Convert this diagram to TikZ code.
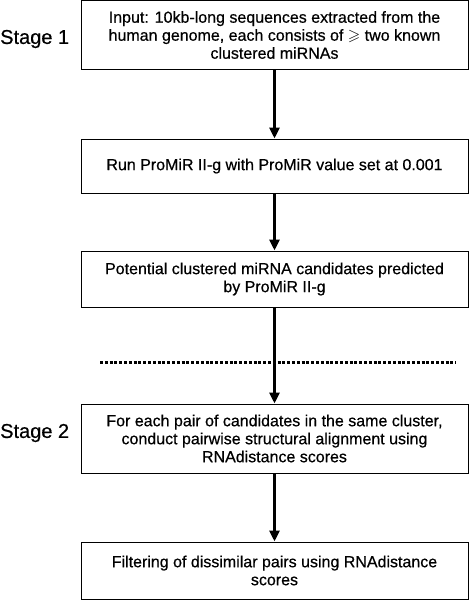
\documentclass[tikz,border=0pt]{standalone}
\usepackage{fontspec}
\setmainfont{Liberation Sans}[FakeBold=0.5,AutoFakeBold=0.5]
\newfontfamily\heavyfont{Liberation Sans}[FakeBold=0.5]
\usepackage{amsmath,amssymb}
\usetikzlibrary{arrows.meta}

\tikzset{
    stepbox/.style={draw,line width=1pt,minimum width=387pt,align=center,
        font=\heavyfont\fontsize{16}{18}\selectfont,inner sep=0pt},
    stagelabel/.style={font=\heavyfont\fontsize{20}{22}\selectfont,anchor=west,inner sep=0pt}
}

\begin{document}
\begin{tikzpicture}[x=1pt,y=-1pt]
    \useasboundingbox (0,0) rectangle (469,600);
    \node[stagelabel] (s1) at (0,39) {Stage 1};
    \node[stagelabel] (s2) at (0,433) {Stage 2};
    \node[stepbox,minimum height=69pt] (in) at (274.5,35) {Input: 10kb-long sequences extracted from the\\human genome, each consists of $\geqslant$ two known\\clustered miRNAs};
    \node[stepbox,minimum height=54pt] (run) at (274.5,166) {Run ProMiR II-g with ProMiR value set at 0.001};
    \node[stepbox,minimum height=56pt] (cand) at (274.5,279) {Potential clustered miRNA candidates predicted\\by ProMiR II-g};
    \node[stepbox,minimum height=69pt] (align) at (274.5,438.5) {For each pair of candidates in the same cluster,\\conduct pairwise structural alignment using\\RNAdistance scores};
    \node[stepbox,minimum height=57pt] (filt) at (274.5,570.5) {Filtering of dissimilar pairs using RNAdistance\\scores};
    \coordinate (sepl) at (100,362);
    \coordinate (sepr) at (456,362);
    \draw[line width=3pt,dash pattern=on 3pt off 1.8pt] (sepl) -- (sepr);
    \path[-{Triangle[length=11pt,width=10pt]},line width=3pt]
    (in) edge (run)
    (run) edge (cand)
    (cand) edge (align)
    (align) edge (filt);
\end{tikzpicture}
\end{document}
